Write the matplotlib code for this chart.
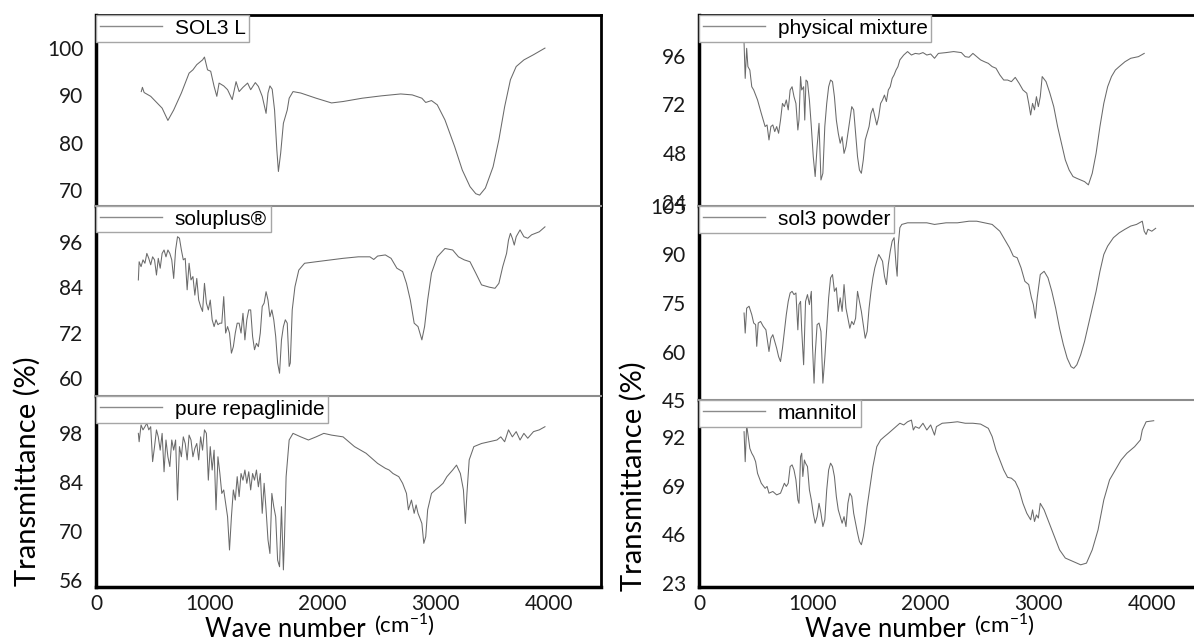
import matplotlib
matplotlib.use("Agg")
import matplotlib.pyplot as plt

# ---- data (wave number cm-1, transmittance %) ----
sol3l_wn = [400, 410, 425, 483, 584, 635, 686, 754, 822, 856,
            890, 941, 958, 985, 1013, 1043, 1067, 1087, 1128, 1162,
            1203, 1237, 1264, 1298, 1339, 1366, 1407, 1434, 1468, 1502,
            1519, 1536, 1556, 1577, 1597, 1611, 1631, 1655, 1689, 1706,
            1740, 1808, 1944, 2080, 2182, 2351, 2521, 2691, 2793, 2878,
            2912, 2963, 3014, 3082, 3167, 3235, 3303, 3354, 3388, 3439,
            3507, 3558, 3609, 3660, 3711, 3779, 3864, 3965]
sol3l_t = [90.8, 91.7, 90.6, 89.8, 87.3, 84.7, 86.9, 90.5, 94.7, 95.4,
           96.5, 97.5, 98.1, 95.4, 95.1, 91.9, 89.8, 92.6, 92.0, 91.2,
           89.1, 92.9, 90.8, 91.7, 92.6, 91.2, 92.7, 91.9, 89.8, 86.2,
           90.5, 92.0, 91.3, 86.9, 78.5, 73.9, 77.8, 84.1, 86.9, 89.4,
           90.8, 90.5, 89.4, 88.4, 88.7, 89.4, 89.9, 90.3, 90.1, 89.4,
           88.5, 88.9, 88.0, 84.8, 79.2, 74.2, 70.7, 69.2, 68.9, 70.4,
           74.9, 80.6, 87.6, 93.3, 96.1, 97.5, 98.6, 100.0]

soluplus_wn = [374, 381,
               398, 415, 432, 449, 466, 483, 500, 517, 534, 550,
               567, 584, 601, 618, 635, 652, 669, 686, 703, 720,
               737, 754, 771, 788, 805, 822, 839, 856, 873, 890,
               907, 924, 941, 958, 975, 992, 1009, 1026, 1043, 1060,
               1077, 1094, 1111, 1128, 1145, 1162, 1179, 1196, 1213, 1230,
               1247, 1264, 1281, 1298, 1315, 1332, 1349, 1366, 1383, 1400,
               1417, 1434, 1451, 1468, 1485, 1502, 1519, 1536, 1553, 1570,
               1587, 1604, 1621, 1638, 1655, 1672, 1689, 1706,
               1716, 1733, 1757, 1791, 1842, 1944, 2080, 2182, 2317, 2419,
               2453, 2487, 2555, 2606, 2657, 2708, 2742, 2776, 2810, 2844,
               2878, 2902, 2929, 2963, 3014, 3082, 3150, 3201, 3252, 3303,
               3354, 3405, 3473, 3524, 3558, 3592, 3626, 3643, 3660, 3677,
               3694, 3711, 3745, 3779, 3813, 3847, 3881, 3915, 3965]
soluplus_t = [85.9, 90.7,
              89.4, 91.2, 90.3, 92.9, 91.6, 89.9, 92.0, 91.2, 87.2, 91.6,
              89.0, 92.9, 93.8, 92.0, 93.8, 92.9, 91.2, 86.3, 93.8, 97.3,
              96.9, 93.8, 91.2, 91.6, 83.3, 90.3, 85.9, 86.8, 81.9, 86.3,
              80.6, 78.9, 77.6, 85.0, 79.8, 78.0, 80.6, 75.4, 73.6, 75.4,
              74.1, 74.5, 74.5, 81.5, 71.9, 73.6, 71.9, 66.6, 68.3, 71.9,
              74.5, 74.5, 71.9, 77.1, 70.1, 75.4, 78.0, 78.0, 71.0, 67.5,
              69.2, 68.3, 71.9, 78.9, 79.8, 82.8, 80.6, 76.2, 78.0, 75.4,
              71.0, 64.0, 61.3, 70.1, 73.6, 75.4, 74.5, 63.1,
              64.0, 78.0, 84.1, 88.5, 90.3, 90.7, 91.2, 91.6, 92.0, 92.0,
              91.3, 92.2, 92.5, 91.6, 89.0, 88.1, 85.0, 80.6, 74.5, 73.6,
              70.1, 73.6, 80.6, 87.7, 92.0, 94.2, 93.8, 92.0, 91.2, 90.7,
              87.7, 84.6, 84.0, 83.7, 85.0, 89.4, 92.9, 96.4, 98.2, 96.9,
              95.1, 97.3, 99.1, 97.3, 96.9, 97.8, 98.2, 98.6, 99.9]

repag_wn = [374, 381,
            398, 415, 432, 449, 466, 483, 500, 517, 534, 550,
            567, 584, 601, 618, 635, 652, 669, 686, 703, 720,
            737, 754, 771, 788, 805, 822, 839, 856, 873, 890,
            907, 924, 941, 958, 975, 992, 1009, 1026, 1043, 1060,
            1077, 1094, 1111, 1128, 1145, 1162, 1179, 1196, 1213, 1230,
            1247, 1264, 1281, 1298, 1315, 1332, 1349, 1366, 1383, 1400,
            1417, 1434, 1451, 1468, 1485, 1502, 1519, 1536, 1553, 1570,
            1587, 1604, 1621, 1638, 1655,
            1665, 1679, 1706, 1740, 1808, 1876, 1944, 2012, 2080, 2182,
            2283, 2385, 2487, 2555, 2589, 2623, 2674, 2708, 2742, 2759,
            2786, 2810, 2827, 2844, 2861, 2878, 2895, 2912, 2929, 2963,
            2997, 3031, 3065, 3099, 3150, 3184, 3218, 3245, 3262, 3276,
            3296, 3337, 3405, 3473, 3541, 3575, 3609, 3643, 3677, 3711,
            3745, 3779, 3813, 3864, 3915, 3965]
repag_t = [98.0, 95.6,
           100.4, 99.0, 99.9, 100.9, 99.0, 99.9, 89.9, 94.2, 99.0, 97.0,
           93.2, 98.0, 87.0, 96.1, 91.3, 88.5, 96.1, 93.2, 96.1, 78.9,
           94.2, 91.3, 97.0, 95.1, 90.4, 97.5, 96.1, 91.3, 93.7, 95.1,
           90.4, 97.0, 93.2, 99.0, 98.0, 84.6, 94.2, 87.5, 93.2, 76.1,
           91.3, 86.5, 80.8, 81.8, 78.0, 74.1, 64.6, 74.1, 81.8, 78.9,
           85.6, 79.9, 86.5, 84.6, 87.5, 83.7, 87.0, 81.8, 86.5, 84.6,
           87.5, 82.7, 86.5, 75.1, 83.7, 76.1, 67.5, 63.6, 80.8, 77.0,
           74.1, 61.7, 59.8, 77.0, 58.9,
           68.4, 85.6, 96.1, 98.0, 97.0, 96.1, 97.0, 98.0, 97.5, 97.0,
           94.2, 92.3, 89.4, 88.0, 87.5, 86.5, 85.6, 83.7, 80.8, 76.1,
           78.9, 75.1, 77.5, 75.1, 73.7, 72.2, 66.5, 68.4, 76.1, 80.8,
           81.8, 82.7, 83.7, 85.6, 87.5, 88.9, 86.5, 81.8, 72.2, 80.8,
           90.4, 94.2, 95.1, 95.6, 96.1, 97.0, 95.6, 99.0, 97.0, 98.5,
           96.1, 98.0, 96.6, 98.5, 99.0, 99.9]

physmix_wn = [398, 408, 421, 432, 449, 466, 483, 517, 550, 584,
              601, 618, 635, 652, 669, 686, 703, 720, 737, 754,
              771, 788, 805, 822, 839, 856, 873, 883, 897, 907,
              924, 934, 945, 958, 975, 992, 1009, 1026, 1043, 1060,
              1077, 1094, 1111, 1128, 1145, 1162, 1179, 1196, 1213, 1230,
              1247, 1264, 1281, 1298, 1315, 1332, 1349, 1366, 1383, 1400,
              1417, 1434, 1451, 1468, 1502, 1519, 1536, 1553, 1570, 1587,
              1604, 1621, 1638, 1655, 1672, 1689, 1706, 1723, 1740, 1757,
              1774, 1808, 1842, 1876, 1910, 1944, 1978, 2012, 2046, 2080,
              2114, 2182, 2249, 2317, 2351, 2385, 2419, 2453, 2487, 2521,
              2555, 2589, 2623, 2657, 2691, 2725, 2759, 2793, 2827, 2861,
              2895, 2912, 2929, 2946, 2963, 2980, 2997, 3014, 3031, 3065,
              3099, 3133, 3167, 3201, 3235, 3269, 3303, 3337, 3371, 3405,
              3439, 3473, 3507, 3541, 3575, 3609, 3643, 3677, 3711, 3762,
              3813, 3881, 3932]
physmix_t = [102.1, 84.8, 99.6, 90.6, 88.9, 80.7, 79.1, 74.2, 67.6, 61.1,
             61.9, 54.5, 61.1, 61.9, 58.6, 61.1, 57.8, 64.3, 72.5, 70.9,
             74.2, 69.3, 79.1, 80.7, 75.8, 72.5, 59.4, 64.3, 85.7, 79.1,
             80.7, 64.3, 84.0, 83.2, 74.2, 61.1, 46.3, 36.5, 51.2, 62.7,
             34.8, 38.1, 61.1, 72.5, 80.7, 84.0, 83.2, 75.8, 64.3, 57.8,
             52.9, 56.1, 47.9, 51.2, 57.8, 64.3, 70.9, 69.3, 57.8, 46.3,
             39.7, 38.1, 44.7, 54.5, 61.1, 67.6, 70.1, 66.0, 61.9, 66.0,
             72.5, 74.2, 76.6, 73.4, 79.1, 80.7, 84.8, 86.5, 88.9, 90.6,
             93.9, 96.3, 98.0, 96.3, 97.1, 96.8, 97.5, 96.3, 96.8, 94.7,
             97.1, 97.5, 98.0, 97.5, 95.5, 95.2, 97.1, 95.5, 93.9, 93.0,
             92.2, 90.6, 89.8, 86.5, 84.0, 84.0, 83.2, 85.3, 82.4, 79.1,
             77.5, 72.5, 66.8, 72.5, 69.3, 75.8, 70.9, 75.8, 85.7, 83.2,
             77.5, 70.9, 61.1, 52.9, 44.7, 39.7, 36.5, 35.6, 34.8, 34.0,
             32.4, 38.1, 47.9, 61.1, 72.5, 80.7, 85.7, 88.9, 90.6, 93.0,
             94.7, 95.5, 97.1]

sol3pow_wn = [398, 408, 421, 442, 466, 483, 500, 510, 523, 544,
              567, 591, 618, 635, 652, 669, 686, 703, 720, 737,
              754, 771, 788, 805, 822, 839, 856, 873, 883, 897,
              907, 924, 941, 958, 975, 992, 1002, 1016, 1026, 1043,
              1060, 1077, 1094, 1111, 1128, 1145, 1162, 1179, 1196, 1213,
              1230, 1247, 1264, 1281, 1298, 1315, 1332, 1349, 1366, 1383,
              1400, 1417, 1434, 1451, 1468, 1485, 1502, 1519, 1536, 1553,
              1570, 1587, 1604, 1621, 1638, 1655, 1672, 1689, 1706, 1723,
              1740, 1750, 1760, 1774, 1791, 1842, 1944, 2012, 2080, 2182,
              2283, 2385, 2453, 2521, 2589, 2657, 2708, 2742, 2776, 2810,
              2844, 2878, 2912, 2936, 2953, 2970, 2987, 3014, 3048, 3082,
              3116, 3150, 3184, 3218, 3252, 3286, 3310, 3337, 3371, 3405,
              3439, 3473, 3507, 3541, 3575, 3609, 3660, 3711, 3762, 3813,
              3864, 3915, 3932, 3949, 3965, 3999, 4033]
sol3pow_t = [71.9, 65.7, 73.4, 74.0, 71.4, 68.8, 68.3, 61.6, 68.8, 69.3,
             67.8, 66.7, 60.0, 64.1, 65.2, 63.1, 61.0, 58.4, 56.9, 61.0,
             66.2, 71.4, 75.5, 78.1, 78.6, 77.6, 78.1, 66.7, 74.5, 75.5,
             66.7, 55.9, 75.5, 77.6, 74.5, 78.6, 62.1, 50.2, 59.0, 68.3,
             68.8, 66.2, 50.2, 57.9, 67.2, 76.6, 82.8, 83.8, 78.6, 79.7,
             72.4, 76.6, 72.4, 80.7, 73.4, 70.3, 67.2, 69.3, 68.3, 70.3,
             78.6, 75.5, 72.4, 68.3, 64.1, 66.2, 73.4, 78.6, 82.8, 85.9,
             87.9, 90.0, 89.0, 87.9, 83.3, 80.7, 86.9, 91.0, 94.1, 95.2,
             86.9, 83.3, 93.1, 98.3, 99.3, 99.8, 99.8, 99.8, 99.3, 99.8,
             99.8, 100.3, 100.3, 99.8, 99.3, 97.2, 94.1, 92.1, 89.5, 89.0,
             85.9, 81.7, 80.7, 76.6, 74.5, 70.3, 76.6, 83.8, 84.8, 82.8,
             78.6, 73.4, 67.2, 62.1, 57.9, 55.3, 54.8, 55.9, 59.0, 63.1,
             68.3, 73.4, 78.6, 84.8, 90.0, 92.6, 95.2, 96.7, 97.8, 98.8,
             99.3, 100.3, 97.2, 96.2, 97.8, 97.2, 98.1]

mannitol_wn = [398, 408, 421, 435, 449, 466, 483, 500, 517, 550,
               584, 601, 618, 652, 686, 720, 754, 771, 788, 805,
               822, 839, 856, 873, 883, 897, 907, 917, 931, 941,
               958, 975, 992, 1009, 1026, 1043, 1060, 1077, 1094, 1111,
               1128, 1145, 1162, 1179, 1196, 1213, 1230, 1247, 1264, 1281,
               1298, 1315, 1332, 1349, 1366, 1383, 1400, 1417, 1434, 1451,
               1468, 1485, 1502, 1519, 1536, 1553, 1570, 1604, 1638, 1672,
               1706, 1740, 1774, 1808, 1842, 1876, 1893, 1910, 1944, 1978,
               2012, 2046, 2080, 2097, 2148, 2216, 2283, 2351, 2419, 2487,
               2555, 2589, 2623, 2657, 2691, 2725, 2759, 2793, 2827, 2861,
               2895, 2929, 2946, 2963, 2980, 2997, 3014, 3048, 3082, 3116,
               3150, 3184, 3235, 3303, 3371, 3422, 3473, 3524, 3575, 3626,
               3677, 3728, 3779, 3847, 3898, 3915, 3949, 4016]
mannitol_t = [94.5, 80.3, 97.7, 92.2, 86.6, 84.3, 82.7, 80.3, 74.8, 70.1,
              67.7, 68.6, 65.4, 66.2, 64.6, 65.4, 70.1, 68.6, 70.1, 78.0,
              78.8, 76.4, 71.7, 62.2, 60.6, 82.7, 84.3, 73.3, 81.1, 79.6,
              78.0, 67.0, 62.2, 55.9, 51.2, 54.3, 60.6, 55.9, 49.6, 52.8,
              67.0, 76.4, 79.6, 78.0, 73.3, 63.8, 57.5, 54.3, 51.2, 54.3,
              49.6, 60.6, 65.4, 63.8, 55.9, 51.2, 46.5, 42.5, 41.0, 44.9,
              51.2, 59.1, 65.4, 71.7, 78.0, 82.7, 87.4, 90.6, 92.2, 93.7,
              95.3, 96.9, 98.5, 97.7, 99.2, 100.0, 95.3, 96.9, 96.1, 98.5,
              95.3, 97.7, 92.9, 96.9, 98.5, 98.8, 99.2, 98.5, 98.5, 98.1,
              96.1, 92.2, 85.8, 81.1, 76.4, 72.9, 72.5, 70.9, 67.0, 60.6,
              55.9, 52.8, 57.5, 52.0, 55.1, 53.6, 60.6, 57.5, 52.8, 48.0,
              43.3, 38.6, 34.7, 33.1, 31.5, 32.3, 38.6, 48.0, 62.2, 71.7,
              76.4, 81.1, 84.3, 87.4, 90.6, 95.3, 99.2, 99.7]

left_labels = ["SOL3 L", "soluplus®", "pure repaglinide"]
right_labels = ["physical mixture", "sol3 powder", "mannitol"]
left_yticks = [[70, 80, 90, 100], [60, 72, 84, 96], [56, 70, 84, 98]]
right_yticks = [[24, 48, 72, 96], [45, 60, 75, 90, 105], [23, 46, 69, 92]]
left_ylims = [(66.6, 107.0), (55.3, 105.4), (54.0, 108.7)]
right_ylims = [(22.0, 116.0), (45.0, 105.0), (21.0, 109.5)]
x_ticks = [0, 1000, 2000, 3000, 4000]

for wn, t in [(sol3l_wn, sol3l_t), (soluplus_wn, soluplus_t), (repag_wn, repag_t),
              (physmix_wn, physmix_t), (sol3pow_wn, sol3pow_t), (mannitol_wn, mannitol_t)]:
    assert len(wn) == len(t), (len(wn), len(t))

W, H = 1194, 643
fig = plt.figure(figsize=(W / 100, H / 100), dpi=100)

TICK_FONT = "Lato"
LINE_COLOR = "#6a6a6a"
SEP_COLOR = "#8c8c8c"


def px_axes(x0, y0, x1, y1):
    return fig.add_axes([x0 / W, 1 - y1 / H, (x1 - x0) / W, (y1 - y0) / H])


def make_panel(x0, x1, rows, spectra, labels, yticks, ylims, right_border):
    for i, (y0, y1) in enumerate(rows):
        ax = px_axes(x0, y0, x1, y1)
        wn, t = spectra[i]
        ax.plot(wn, t, color=LINE_COLOR, lw=0.75, label=labels[i])
        ax.set_xlim(0, 4460)
        ax.set_ylim(*ylims[i])
        ax.set_yticks(yticks[i])
        ax.set_xticks(x_ticks)
        ax.tick_params(length=0, labelsize=15, pad=9, labelcolor="#1a1a1a")
        for lab in ax.get_yticklabels() + ax.get_xticklabels():
            lab.set_fontfamily(TICK_FONT)
        if i < 2:
            ax.tick_params(labelbottom=False)
            ax.spines["bottom"].set_visible(False)
        else:
            ax.tick_params(axis="x", pad=5)
            ax.spines["bottom"].set_linewidth(2.5)
            ax.spines["bottom"].set_color("black")
        if i == 0:
            ax.spines["top"].set_linewidth(2)
            ax.spines["top"].set_color("black")
        else:
            ax.spines["top"].set_linewidth(1.5)
            ax.spines["top"].set_color(SEP_COLOR)
        ax.spines["left"].set_linewidth(2.5)
        ax.spines["left"].set_color("black")
        if right_border:
            ax.spines["right"].set_linewidth(2)
            ax.spines["right"].set_color("black")
        else:
            ax.spines["right"].set_visible(False)
        leg = ax.legend(loc="upper left", bbox_to_anchor=(0, 1), borderaxespad=0,
                        fancybox=False, framealpha=1, edgecolor="#a6a6a6",
                        prop={"family": "Liberation Sans", "size": 15},
                        handlelength=3.0, handletextpad=0.6, borderpad=0.18)
        leg.get_frame().set_linewidth(1.0)
        for h in leg.get_lines():
            h.set_linewidth(1.0)
            h.set_color("#8a8a8a")


make_panel(96, 601, [(15, 206), (206, 396), (396, 587)],
           [(sol3l_wn, sol3l_t), (soluplus_wn, soluplus_t), (repag_wn, repag_t)],
           left_labels, left_yticks, left_ylims, True)
make_panel(699, 1204, [(15, 206), (206, 400), (400, 587)],
           [(physmix_wn, physmix_t), (sol3pow_wn, sol3pow_t), (mannitol_wn, mannitol_t)],
           right_labels, right_yticks, right_ylims, False)

# axis titles
for x_ylab, y_ylab, x_xlab in [(27, 471, 205), (633, 476, 805)]:
    fig.text(x_ylab / W, 1 - y_ylab / H, "Transmittance (%)", rotation=90,
             ha="center", va="center", fontsize=21, family=TICK_FONT)
    t1 = fig.text(x_xlab / W, 1 - 637 / H, "Wave number", ha="left",
                  va="baseline", fontsize=18.5, family=TICK_FONT)
    fig.add_artist(plt.Annotation(r"(cm$^{\mathregular{-1}}$)", xy=(1, 0), xycoords=t1,
                                  xytext=(6, 3), textcoords="offset points",
                                  ha="left", va="bottom", fontsize=16,
                                  family=TICK_FONT))

fig.savefig("out.png", dpi=100)
